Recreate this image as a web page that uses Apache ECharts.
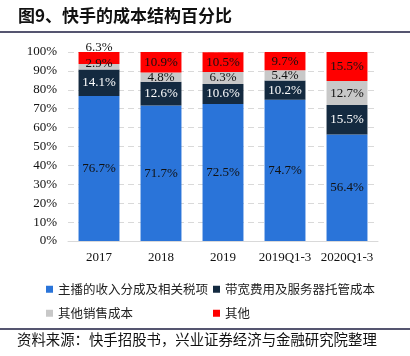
<!DOCTYPE html>
<html><head><meta charset="utf-8">
<script src="https://cdn.jsdelivr.net/npm/echarts@6/dist/echarts.min.js"></script>
<style>html,body{margin:0;padding:0;background:#fff}#c{width:410px;height:356px}</style>
</head><body><div id="c"></div>
<script>
var categories = ['2017', '2018', '2019', '2019Q1-3', '2020Q1-3'];
var seriesNames = ['主播的收入分成及相关税项', '带宽费用及服务器托管成本', '其他销售成本', '其他'];
var anchorShare = [76.7, 71.7, 72.5, 74.7, 56.4];
var bandwidthCost = [14.1, 12.6, 10.6, 10.2, 15.5];
var otherSalesCost = [2.9, 4.8, 6.3, 5.4, 12.7];
var otherCost = [6.3, 10.9, 10.5, 9.7, 15.5];
var yTicks = [0, 10, 20, 30, 40, 50, 60, 70, 80, 90, 100];

var colors = ['#2a74d9', '#142a40', '#c8c8c8', '#ff0000'];
var labelColors = ['#111', '#fff', '#111', '#111'];
var serif = '"Liberation Serif","Times New Roman",serif';
var cjk = '"Noto Sans CJK SC",sans-serif';
var values = [anchorShare, bandwidthCost, otherSalesCost, otherCost];
// label nudges for crowded small segments (series index -> category index -> [dx, dy])
var labelNudge = {2: {0: [0, -3]}, 3: {0: [0, -10]}};

var chart = echarts.init(document.getElementById('c'), null, {renderer: 'canvas'});
var series = values.map(function (arr, i) {
  return {
    name: seriesNames[i], type: 'bar', stack: 'total', barWidth: '66%',
    data: arr.map(function (v, j) {
      var item = {value: v};
      if (labelNudge[i] && labelNudge[i][j]) item.label = {offset: labelNudge[i][j]};
      return item;
    }),
    itemStyle: {color: colors[i]},
    label: {show: true, position: 'inside', formatter: function (p) { return p.value.toFixed(1) + '%'; },
      color: labelColors[i], fontFamily: serif, fontSize: 13}
  };
});
chart.setOption({
  animation: false,
  grid: {left: 68, right: 32, top: 52, bottom: 115, containLabel: false},
  xAxis: {type: 'category', data: categories,
    axisLine: {lineStyle: {color: '#d9d9d9'}}, axisTick: {show: false},
    axisLabel: {color: '#111', fontFamily: serif, fontSize: 13, margin: 10, interval: 0}},
  yAxis: {type: 'value', min: yTicks[0], max: yTicks[yTicks.length - 1], interval: 10,
    axisLine: {show: false}, axisTick: {show: false},
    splitLine: {lineStyle: {color: '#d9d9d9', type: [6, 4]}},
    axisLabel: {color: '#111', fontFamily: serif, fontSize: 13, margin: 11, formatter: '{value}%'}},
  legend: [
    {data: [seriesNames[0], seriesNames[1]], left: 41, top: 278, itemWidth: 7, itemHeight: 7, itemGap: 5,
      icon: 'rect', textStyle: {fontFamily: cjk, fontSize: 12.5, color: '#222'}},
    {data: [seriesNames[2]], left: 41, top: 302, itemWidth: 7, itemHeight: 7,
      icon: 'rect', textStyle: {fontFamily: cjk, fontSize: 12.5, color: '#222'}},
    {data: [seriesNames[3]], left: 208, top: 302, itemWidth: 7, itemHeight: 7,
      icon: 'rect', textStyle: {fontFamily: cjk, fontSize: 12.5, color: '#222'}}
  ],
  graphic: [
    {type: 'text', left: 18, top: 7, style: {text: '图9、快手的成本结构百分比', font: 'bold 17px ' + cjk, fill: '#111'}},
    {type: 'rect', shape: {x: 0, y: 31, width: 410, height: 2}, style: {fill: '#555570'}},
    {type: 'rect', shape: {x: 0, y: 328, width: 410, height: 2}, style: {fill: '#555570'}},
    {type: 'text', left: 17, top: 332, style: {text: '资料来源：快手招股书，兴业证券经济与金融研究院整理', font: '14.4px ' + cjk, fill: '#111'}}
  ],
  series: series
});
</script></body></html>
